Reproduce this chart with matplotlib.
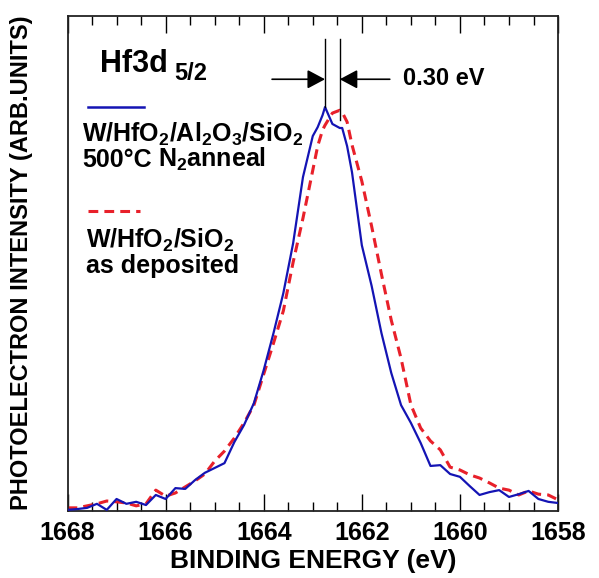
import numpy as np
import matplotlib
matplotlib.use("Agg")
import matplotlib.pyplot as plt

plt.rcParams['font.family'] = ['Liberation Sans', 'DejaVu Sans']
plt.rcParams['font.weight'] = 'bold'
plt.rcParams['mathtext.fontset'] = 'custom'
plt.rcParams['mathtext.rm'] = 'Liberation Sans:bold'
plt.rcParams['mathtext.bf'] = 'Liberation Sans:bold'
plt.rcParams['mathtext.default'] = 'rm'

# binding energy (eV)
energy = [1668.0, 1667.8, 1667.6, 1667.4, 1667.2, 1667.0, 1666.8, 1666.6, 1666.4, 1666.2,
          1666.0, 1665.8, 1665.6, 1665.4, 1665.2, 1665.0, 1664.8, 1664.6, 1664.4, 1664.2,
          1664.0, 1663.8, 1663.6, 1663.4, 1663.2, 1663.0, 1662.9, 1662.8, 1662.75, 1662.6,
          1662.45, 1662.4, 1662.3, 1662.2, 1662.0, 1661.8, 1661.6, 1661.4, 1661.2, 1661.0,
          1660.8, 1660.6, 1660.4, 1660.2, 1660.0, 1659.8, 1659.6, 1659.4, 1659.2, 1659.0,
          1658.8, 1658.6, 1658.4, 1658.2, 1658.0]

# W/HfO2/Al2O3/SiO2, 500C N2 anneal
annealed = [0.4, 0.6, 0.9, 1.9, 0.4, 3.1, 1.9, 2.4, 1.6, 4.1,
            3.1, 5.8, 5.6, 7.8, 9.6, 10.8, 12.0, 17.2, 21.5, 26.9,
            35.1, 44.3, 54.2, 66.6, 83.0, 93.2, 95.4, 98.4, 100.4, 96.2,
            95.2, 95.2, 90.7, 84.2, 66.1, 56.0, 44.3, 34.4, 26.4, 22.0,
            17.0, 11.3, 11.5, 9.3, 8.6, 6.3, 4.1, 4.8, 5.3, 3.6,
            4.3, 5.1, 3.1, 2.4, 2.1]

# W/HfO2/SiO2 as deposited
deposited = [0.9, 0.9, 1.4, 1.9, 2.6, 2.4, 2.1, 1.4, 1.9, 5.3,
             3.8, 4.6, 6.1, 7.6, 9.3, 12.5, 15.0, 18.2, 22.0, 26.4,
             34.1, 41.8, 49.8, 61.9, 72.8, 84.7, 90.7, 94.7, 95.9, 98.9,
             99.6, 99.1, 96.7, 91.0, 82.0, 70.8, 58.9, 47.5, 38.0, 26.5,
             20.7, 17.5, 15.3, 11.0, 10.3, 9.1, 8.3, 7.1, 5.8, 5.3,
             4.1, 5.1, 4.3, 4.1, 2.9]

peak_annealed = 1662.75
peak_deposited = 1662.45

blue = '#1414b4'
red = '#e8202a'

fig = plt.figure(figsize=(5.99, 5.78), dpi=100)
ax = fig.add_axes([0.1127, 0.1151, 0.8189, 0.8572])

ax.plot(energy, annealed, color=blue, lw=1.6, zorder=3)
ax.plot(energy, deposited, color=red, lw=2.2, ls=(0, (3.2, 2.0)), zorder=2)

ax.set_xlim(1668, 1658)
ax.set_ylim(0, 123)
ax.set_xticks(np.arange(1668, 1657, -2))
ax.set_xticks(np.arange(1668, 1657.9, -0.5), minor=True)
ax.set_yticks([])
ax.tick_params(axis='x', which='both', direction='in', top=True, bottom=True,
               width=1.0, labelsize=18, pad=7)
ax.tick_params(axis='x', which='major', length=12)
ax.tick_params(axis='x', which='minor', length=6.5)
for lab in ax.get_xticklabels():
    lab.set_fontweight('bold')
for s in ax.spines.values():
    s.set_linewidth(1.3)
    s.set_color('#222222')

ax.set_xlabel('BINDING ENERGY (eV)', fontsize=19, fontweight='bold', labelpad=3)
fig.text(22 / 599, 1 - 263 / 578, 'PHOTOELECTRON INTENSITY (ARB.UNITS)', rotation=90,
         ha='center', va='center', fontsize=17, fontweight='bold')

# peak markers and arrows
ax.plot([peak_annealed, peak_annealed], [100.4, 117.2], color='black', lw=1.0, zorder=4)
ax.plot([peak_deposited, peak_deposited], [97.1, 117.2], color='black', lw=1.0, zorder=4)
arrow = dict(arrowstyle='-|>,head_length=0.6,head_width=0.32', color='black', lw=1.2,
             shrinkA=0, shrinkB=0, mutation_scale=18)
ax.annotate('', xy=(peak_annealed, 107.3), xytext=(1663.83, 107.3), arrowprops=arrow)
ax.annotate('', xy=(peak_deposited, 107.3), xytext=(1661.43, 107.3), arrowprops=arrow)
ax.text(1661.16, 105.8, '0.30 eV', fontsize=17, fontweight='bold', va='baseline')

ax.text(1667.34, 109.1, 'Hf3d', fontsize=22, fontweight='bold', va='baseline')
ax.text(1665.83, 107.1, '5/2', fontsize=17, fontweight='bold', va='baseline')

# legend drawn by hand
ax.plot([1667.58, 1666.44], [100.4, 100.4], color=blue, lw=1.8)
ax.plot([1667.58, 1666.52], [74.6, 74.6], color=red, lw=2.2, ls=(0, (3.2, 2.0)))
ax.text(1667.70, 91.7, r'W/HfO$_2$/Al$_2$O$_3$/SiO$_2$', fontsize=18, va='baseline')
ax.text(1667.70, 85.5, '500°C', fontsize=18, va='baseline')
ax.text(1666.15, 85.5, 'N$_2$anneal', fontsize=18, va='baseline')
ax.text(1667.62, 65.4, r'W/HfO$_2$/SiO$_2$', fontsize=18, va='baseline')
ax.text(1667.62, 59.2, 'as deposited', fontsize=18, va='baseline')

fig.savefig('out.png', dpi=100)
